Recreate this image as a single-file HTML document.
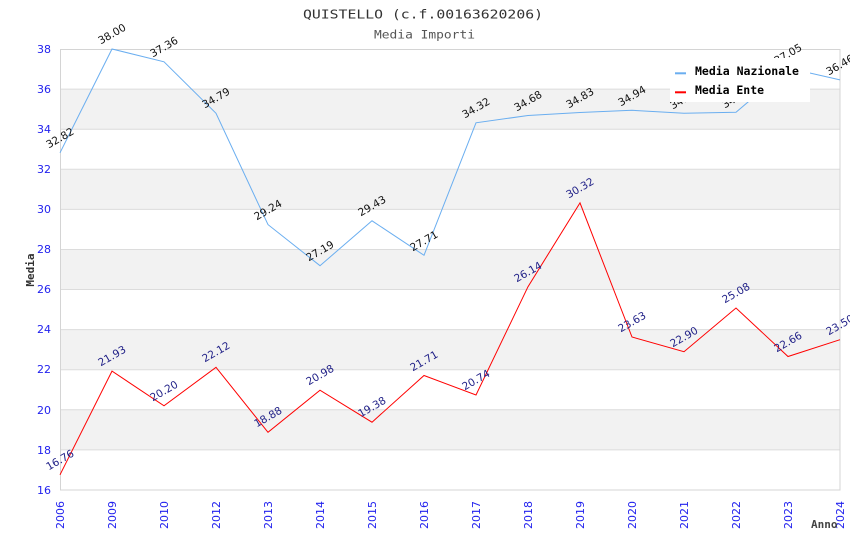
<!DOCTYPE html>
<html><head><meta charset="utf-8"><style>
html,body{margin:0;padding:0;background:#fff;}
svg{display:block;}
</style></head><body>
<svg width="850" height="550" viewBox="0 0 850 550" xmlns="http://www.w3.org/2000/svg">
<rect x="0" y="0" width="850" height="550" fill="#fff"/>
<!-- title -->
<text x="303" y="18.5" font-family="DejaVu Sans Mono, Liberation Mono, monospace" font-size="12.5" fill="#333" textLength="240" lengthAdjust="spacingAndGlyphs">QUISTELLO (c.f.00163620206)</text>
<text x="374" y="38.5" font-family="DejaVu Sans Mono, Liberation Mono, monospace" font-size="11.5" fill="#555" textLength="101" lengthAdjust="spacingAndGlyphs">Media Importi</text>
<!-- bands -->
<g fill="#f2f2f2">
<rect x="60" y="89.1" width="780" height="40.1"/>
<rect x="60" y="169.3" width="780" height="40.1"/>
<rect x="60" y="249.5" width="780" height="40"/>
<rect x="60" y="329.6" width="780" height="40.1"/>
<rect x="60" y="409.8" width="780" height="40.1"/>
</g>
<g stroke="#dcdcdc" stroke-width="1">
<line x1="60" y1="89.1" x2="840" y2="89.1"/>
<line x1="60" y1="129.2" x2="840" y2="129.2"/>
<line x1="60" y1="169.3" x2="840" y2="169.3"/>
<line x1="60" y1="209.4" x2="840" y2="209.4"/>
<line x1="60" y1="249.5" x2="840" y2="249.5"/>
<line x1="60" y1="289.5" x2="840" y2="289.5"/>
<line x1="60" y1="329.6" x2="840" y2="329.6"/>
<line x1="60" y1="369.7" x2="840" y2="369.7"/>
<line x1="60" y1="409.8" x2="840" y2="409.8"/>
<line x1="60" y1="449.9" x2="840" y2="449.9"/>
</g>
<rect x="60.5" y="49.5" width="779.5" height="440.5" fill="none" stroke="#d4d4d4" stroke-width="1"/>
<!-- y tick labels -->
<g font-family="DejaVu Sans, Liberation Sans, sans-serif" font-size="11" fill="#2222ee" text-anchor="end">
<text x="51" y="53">38</text>
<text x="51" y="93">36</text>
<text x="51" y="133">34</text>
<text x="51" y="173">32</text>
<text x="51" y="213">30</text>
<text x="51" y="253">28</text>
<text x="51" y="293">26</text>
<text x="51" y="333">24</text>
<text x="51" y="373">22</text>
<text x="51" y="414">20</text>
<text x="51" y="454">18</text>
<text x="51" y="494">16</text>
</g>
<!-- x tick labels -->
<g font-family="DejaVu Sans, Liberation Sans, sans-serif" font-size="11" fill="#2222ee" text-anchor="end">
<text transform="translate(64,501) rotate(-90)">2006</text>
<text transform="translate(116,501) rotate(-90)">2009</text>
<text transform="translate(168,501) rotate(-90)">2010</text>
<text transform="translate(220,501) rotate(-90)">2012</text>
<text transform="translate(272,501) rotate(-90)">2013</text>
<text transform="translate(324,501) rotate(-90)">2014</text>
<text transform="translate(376,501) rotate(-90)">2015</text>
<text transform="translate(428,501) rotate(-90)">2016</text>
<text transform="translate(480,501) rotate(-90)">2017</text>
<text transform="translate(532,501) rotate(-90)">2018</text>
<text transform="translate(584,501) rotate(-90)">2019</text>
<text transform="translate(636,501) rotate(-90)">2020</text>
<text transform="translate(688,501) rotate(-90)">2021</text>
<text transform="translate(740,501) rotate(-90)">2022</text>
<text transform="translate(792,501) rotate(-90)">2023</text>
<text transform="translate(844,501) rotate(-90)">2024</text>
</g>
<!-- axis titles -->
<text x="811" y="528" font-family="DejaVu Sans Mono, Liberation Mono, monospace" font-size="11" font-weight="bold" fill="#444">Anno</text>
<text transform="translate(34,270) rotate(-90)" text-anchor="middle" font-family="DejaVu Sans Mono, Liberation Mono, monospace" font-size="11" font-weight="bold" fill="#333">Media</text>
<!-- series -->
<polyline fill="none" stroke="#6aaef0" stroke-width="1" points="60,152.8 112,49 164,61.8 216,113.3 268,224.6 320,265.7 372,220.8 424,255.3 476,122.8 528,115.5 580,112.5 632,110.3 684,113.3 736,112.3 788,68 840,79.9"/>
<polyline fill="none" stroke="#ff0000" stroke-width="1" points="60,474.8 112,371.1 164,405.8 216,367.3 268,432.3 320,390.2 372,422.2 424,375.5 476,395 528,286.7 580,202.9 632,337 684,351.7 736,308 788,356.5 840,339.7"/>
<!-- labels Nazionale -->
<g font-family="DejaVu Sans, Liberation Sans, sans-serif" font-size="10.5" fill="#111" text-anchor="middle">
<text transform="translate(60,138) rotate(-30)" dy="3.5">32.82</text>
<text transform="translate(112,34) rotate(-30)" dy="3.5">38.00</text>
<text transform="translate(164,47) rotate(-30)" dy="3.5">37.36</text>
<text transform="translate(216,98) rotate(-30)" dy="3.5">34.79</text>
<text transform="translate(268,210) rotate(-30)" dy="3.5">29.24</text>
<text transform="translate(320,251) rotate(-30)" dy="3.5">27.19</text>
<text transform="translate(372,206) rotate(-30)" dy="3.5">29.43</text>
<text transform="translate(424,241) rotate(-30)" dy="3.5">27.71</text>
<text transform="translate(476,108) rotate(-30)" dy="3.5">34.32</text>
<text transform="translate(528,101) rotate(-30)" dy="3.5">34.68</text>
<text transform="translate(580,98) rotate(-30)" dy="3.5">34.83</text>
<text transform="translate(632,96) rotate(-30)" dy="3.5">34.94</text>
<text transform="translate(684,99) rotate(-30)" dy="3.5">34.79</text>
<text transform="translate(736,98) rotate(-30)" dy="3.5">34.84</text>
<text transform="translate(788,54) rotate(-30)" dy="3.5">37.05</text>
<text transform="translate(840,65) rotate(-30)" dy="3.5">36.46</text>
</g>
<!-- labels Ente -->
<g font-family="DejaVu Sans, Liberation Sans, sans-serif" font-size="10.5" fill="#1e1e86" text-anchor="middle">
<text transform="translate(60,460) rotate(-30)" dy="3.5">16.76</text>
<text transform="translate(112,356) rotate(-30)" dy="3.5">21.93</text>
<text transform="translate(164,391) rotate(-30)" dy="3.5">20.20</text>
<text transform="translate(216,352) rotate(-30)" dy="3.5">22.12</text>
<text transform="translate(268,417) rotate(-30)" dy="3.5">18.88</text>
<text transform="translate(320,375) rotate(-30)" dy="3.5">20.98</text>
<text transform="translate(372,407) rotate(-30)" dy="3.5">19.38</text>
<text transform="translate(424,361) rotate(-30)" dy="3.5">21.71</text>
<text transform="translate(476,380) rotate(-30)" dy="3.5">20.74</text>
<text transform="translate(528,272) rotate(-30)" dy="3.5">26.14</text>
<text transform="translate(580,188) rotate(-30)" dy="3.5">30.32</text>
<text transform="translate(632,322) rotate(-30)" dy="3.5">23.63</text>
<text transform="translate(684,337) rotate(-30)" dy="3.5">22.90</text>
<text transform="translate(736,293) rotate(-30)" dy="3.5">25.08</text>
<text transform="translate(788,342) rotate(-30)" dy="3.5">22.66</text>
<text transform="translate(840,325) rotate(-30)" dy="3.5">23.50</text>
</g>
<!-- legend -->
<rect x="670" y="58" width="140" height="44" fill="#fff"/>
<line x1="675" y1="73.3" x2="686" y2="73.3" stroke="#6aaef0" stroke-width="2"/>
<line x1="675" y1="92.3" x2="686" y2="92.3" stroke="#ff0000" stroke-width="2"/>
<g font-family="DejaVu Sans Mono, Liberation Mono, monospace" font-size="11.5" font-weight="bold" fill="#000">
<text x="695" y="75" textLength="104" lengthAdjust="spacingAndGlyphs">Media Nazionale</text>
<text x="695" y="94" textLength="69" lengthAdjust="spacingAndGlyphs">Media Ente</text>
</g>
</svg>
</body></html>
